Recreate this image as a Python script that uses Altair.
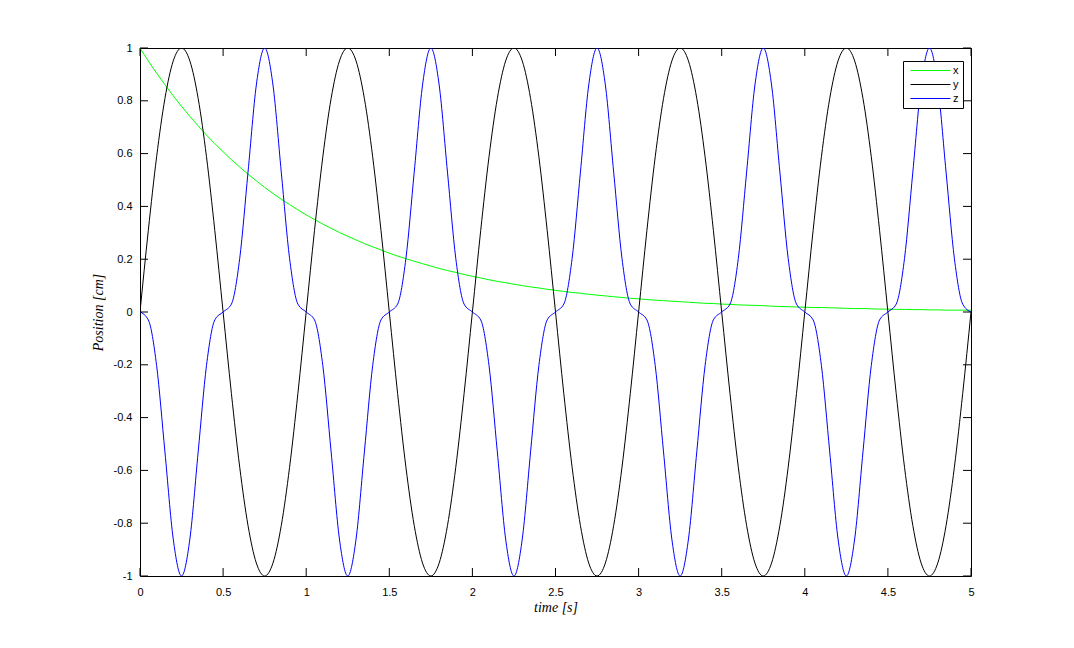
import altair as alt
import pandas as pd

time_s = [0.0, 0.05, 0.1, 0.15, 0.2, 0.25, 0.3, 0.35, 0.4, 0.45,
          0.5, 0.55, 0.6, 0.65, 0.7, 0.75, 0.8, 0.85, 0.9, 0.95,
          1.0, 1.05, 1.1, 1.15, 1.2, 1.25, 1.3, 1.35, 1.4, 1.45,
          1.5, 1.55, 1.6, 1.65, 1.7, 1.75, 1.8, 1.85, 1.9, 1.95,
          2.0, 2.05, 2.1, 2.15, 2.2, 2.25, 2.3, 2.35, 2.4, 2.45,
          2.5, 2.55, 2.6, 2.65, 2.7, 2.75, 2.8, 2.85, 2.9, 2.95,
          3.0, 3.05, 3.1, 3.15, 3.2, 3.25, 3.3, 3.35, 3.4, 3.45,
          3.5, 3.55, 3.6, 3.65, 3.7, 3.75, 3.8, 3.85, 3.9, 3.95,
          4.0, 4.05, 4.1, 4.15, 4.2, 4.25, 4.3, 4.35, 4.4, 4.45,
          4.5, 4.55, 4.6, 4.65, 4.7, 4.75, 4.8, 4.85, 4.9, 4.95,
          5.0]

x_vals = [1.0, 0.951, 0.905, 0.861, 0.819, 0.779, 0.741, 0.705, 0.670, 0.638,
          0.607, 0.577, 0.549, 0.522, 0.497, 0.472, 0.449, 0.427, 0.407, 0.387,
          0.368, 0.350, 0.333, 0.317, 0.301, 0.287, 0.273, 0.259, 0.247, 0.235,
          0.223, 0.212, 0.202, 0.192, 0.183, 0.174, 0.165, 0.157, 0.150, 0.142,
          0.135, 0.129, 0.122, 0.116, 0.111, 0.105, 0.100, 0.095, 0.091, 0.086,
          0.082, 0.078, 0.074, 0.071, 0.067, 0.064, 0.061, 0.058, 0.055, 0.052,
          0.050, 0.047, 0.045, 0.043, 0.041, 0.039, 0.037, 0.035, 0.033, 0.032,
          0.030, 0.029, 0.027, 0.026, 0.025, 0.024, 0.022, 0.021, 0.020, 0.019,
          0.018, 0.017, 0.017, 0.016, 0.015, 0.014, 0.013, 0.013, 0.012, 0.011,
          0.011, 0.010, 0.010, 0.009, 0.009, 0.008, 0.008, 0.007, 0.007, 0.007,
          0.007]

y_vals = [0, 0.309, 0.588, 0.809, 0.951, 1, 0.951, 0.809, 0.588, 0.309,
          0, -0.309, -0.588, -0.809, -0.951, -1, -0.951, -0.809, -0.588, -0.309,
          0, 0.309, 0.588, 0.809, 0.951, 1, 0.951, 0.809, 0.588, 0.309,
          0, -0.309, -0.588, -0.809, -0.951, -1, -0.951, -0.809, -0.588, -0.309,
          0, 0.309, 0.588, 0.809, 0.951, 1, 0.951, 0.809, 0.588, 0.309,
          0, -0.309, -0.588, -0.809, -0.951, -1, -0.951, -0.809, -0.588, -0.309,
          0, 0.309, 0.588, 0.809, 0.951, 1, 0.951, 0.809, 0.588, 0.309,
          0, -0.309, -0.588, -0.809, -0.951, -1, -0.951, -0.809, -0.588, -0.309,
          0, 0.309, 0.588, 0.809, 0.951, 1, 0.951, 0.809, 0.588, 0.309,
          0, -0.309, -0.588, -0.809, -0.951, -1, -0.951, -0.809, -0.588, -0.309,
          0]

z_vals = [0, -0.030, -0.203, -0.530, -0.860, -1, -0.860, -0.530, -0.203, -0.030,
          0, 0.030, 0.203, 0.530, 0.860, 1, 0.860, 0.530, 0.203, 0.030,
          0, -0.030, -0.203, -0.530, -0.860, -1, -0.860, -0.530, -0.203, -0.030,
          0, 0.030, 0.203, 0.530, 0.860, 1, 0.860, 0.530, 0.203, 0.030,
          0, -0.030, -0.203, -0.530, -0.860, -1, -0.860, -0.530, -0.203, -0.030,
          0, 0.030, 0.203, 0.530, 0.860, 1, 0.860, 0.530, 0.203, 0.030,
          0, -0.030, -0.203, -0.530, -0.860, -1, -0.860, -0.530, -0.203, -0.030,
          0, 0.030, 0.203, 0.530, 0.860, 1, 0.860, 0.530, 0.203, 0.030,
          0, -0.030, -0.203, -0.530, -0.860, -1, -0.860, -0.530, -0.203, -0.030,
          0, 0.030, 0.203, 0.530, 0.860, 1, 0.860, 0.530, 0.203, 0.030,
          0]

series_names = ["x", "y", "z"]
series_colors = ["#00ff00", "#000000", "#0000ff"]

x_ticks = [0, 0.5, 1, 1.5, 2, 2.5, 3, 3.5, 4, 4.5, 5]
y_ticks = [-1, -0.8, -0.6, -0.4, -0.2, 0, 0.2, 0.4, 0.6, 0.8, 1]

W, H = 831, 528
TICK = 8

rows = []
for name, vals in zip(series_names, [x_vals, y_vals, z_vals]):
    for t, v in zip(time_s, vals):
        rows.append({"t": t, "v": v, "s": name})
df = pd.DataFrame(rows)

xscale = alt.Scale(domain=[0, 5], nice=False, zero=False)
yscale = alt.Scale(domain=[-1, 1], nice=False, zero=False)

lines = alt.Chart(df).mark_line(strokeWidth=1, interpolate="monotone", clip=True).encode(
    x=alt.X("t:Q", scale=xscale,
            axis=alt.Axis(values=x_ticks, labelExpr="'' + datum.value", ticks=False,
                          domain=False, grid=False, labelPadding=10, labelFlush=False,
                          title="time [s]", titlePadding=3,
                          titleFont="Liberation Serif", titleFontSize=14,
                          titleFontStyle="italic", titleFontWeight="normal")),
    y=alt.Y("v:Q", scale=yscale,
            axis=alt.Axis(values=y_ticks, labelExpr="'' + datum.value", ticks=False,
                          domain=False, grid=False, labelPadding=8, labelFlush=False,
                          title="Position [cm]", titlePadding=8,
                          titleFont="Liberation Serif", titleFontSize=14,
                          titleFontStyle="italic", titleFontWeight="normal")),
    color=alt.Color("s:N", scale=alt.Scale(domain=series_names, range=series_colors),
                    legend=alt.Legend(title=None, orient="none", legendX=763, legendY=13,
                                      symbolType="M-10,0H10", symbolSize=16,
                                      symbolOffset=18, symbolStrokeWidth=1,
                                      labelFont="Liberation Sans",
                                      labelFontSize=11, labelColor="black",
                                      labelOffset=17, padding=4, rowPadding=2,
                                      strokeColor="black", fillColor="white")),
)

xt = pd.DataFrame({"t": x_ticks})
yt = pd.DataFrame({"v": y_ticks})

bottom_ticks = alt.Chart(xt).mark_rule(stroke="black", strokeWidth=1).encode(
    x=alt.X("t:Q", scale=xscale), y=alt.value(H), y2=alt.value(H - TICK))
top_ticks = alt.Chart(xt).mark_rule(stroke="black", strokeWidth=1).encode(
    x=alt.X("t:Q", scale=xscale), y=alt.value(0), y2=alt.value(TICK))
left_ticks = alt.Chart(yt).mark_rule(stroke="black", strokeWidth=1).encode(
    y=alt.Y("v:Q", scale=yscale), x=alt.value(0), x2=alt.value(TICK))
right_ticks = alt.Chart(yt).mark_rule(stroke="black", strokeWidth=1).encode(
    y=alt.Y("v:Q", scale=yscale), x=alt.value(W - TICK), x2=alt.value(W))

chart = alt.layer(lines, bottom_ticks, top_ticks, left_ticks, right_ticks).properties(
    width=W, height=H,
    background="white",
    autosize=alt.AutoSizeParams(type="none"),
    padding={"left": 132, "top": 40, "right": 95, "bottom": 64},
).configure_view(
    stroke="black", strokeWidth=1
).configure_axis(
    labelFont="Liberation Sans", labelFontSize=11, labelColor="black",
    titleColor="black"
)

chart.save("out.html", embed_options={"renderer": "svg", "actions": False})
